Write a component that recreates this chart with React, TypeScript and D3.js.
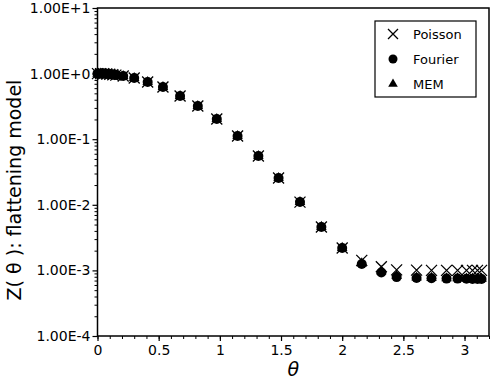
import React, { useEffect, useRef } from "react";
import * as d3 from "d3";

// theta values (radians)
const theta = [
  0, 0.025, 0.05, 0.075, 0.1, 0.125, 0.15, 0.21, 0.3, 0.41, 0.535, 0.675, 0.82,
  0.975, 1.145, 1.315, 1.48, 1.655, 1.83, 2.0, 2.16, 2.32, 2.445, 2.608, 2.73,
  2.853, 2.943, 3.016, 3.065, 3.106, 3.139,
];

const poisson = [
  1.0, 0.998, 0.992, 0.984, 0.975, 0.962, 0.948, 0.92, 0.857, 0.745, 0.625,
  0.456, 0.321, 0.203, 0.112, 0.0555, 0.0256, 0.011, 0.0046, 0.0022, 0.00142,
  0.00114, 0.00102, 0.00101, 0.001, 0.001, 0.001, 0.001, 0.001, 0.001, 0.001,
];

const fourier = [
  1.0, 0.998, 0.992, 0.984, 0.975, 0.962, 0.948, 0.92, 0.857, 0.745, 0.625,
  0.456, 0.321, 0.203, 0.112, 0.0555, 0.0256, 0.011, 0.0046, 0.0022, 0.00125,
  0.00093, 0.00079, 0.000765, 0.00076, 0.00075, 0.00075, 0.000745, 0.00074,
  0.00074, 0.00074,
];

const mem = [
  1.0, 0.998, 0.992, 0.984, 0.975, 0.962, 0.948, 0.92, 0.857, 0.745, 0.625,
  0.456, 0.321, 0.203, 0.112, 0.0555, 0.0256, 0.011, 0.0046, 0.0022, 0.00128,
  0.00097, 0.00082, 0.00078, 0.00077, 0.00076, 0.00076, 0.00075, 0.00075,
  0.00075, 0.00075,
];

const xTicks = [0, 0.5, 1, 1.5, 2, 2.5, 3];
const yTicks = [1e-4, 1e-3, 1e-2, 1e-1, 1, 10];
const legendNames = ["Poisson", "Fourier", "MEM"];

const W = 491;
const H = 382;
const margin = { top: 8, right: 2, bottom: 46, left: 97.5 };
const FONT = "'DejaVu Sans', Verdana, sans-serif";

const fmtE = (v: number) => {
  const e = Math.round(Math.log10(v));
  return `1.00E${e >= 0 ? "+" : "-"}${Math.abs(e)}`;
};

const App = () => {
  const svgRef = useRef<SVGSVGElement | null>(null);

  useEffect(() => {
    const svg = d3.select(svgRef.current);
    svg.selectAll("*").remove();

    const x = d3
      .scaleLinear()
      .domain([0, 3.2])
      .range([margin.left, W - margin.right]);
    const y = d3
      .scaleLog()
      .domain([1e-4, 10])
      .range([H - margin.bottom, margin.top]);

    const minorX = d3.range(0, 3.2001, 0.1);
    const minorY: number[] = [];
    for (let e = -4; e < 1; e++) {
      for (let m = 2; m <= 9; m++) minorY.push(m * Math.pow(10, e));
    }

    // minor ticks
    svg
      .append("g")
      .attr("transform", `translate(0,${H - margin.bottom})`)
      .call(d3.axisBottom(x).tickValues(minorX).tickSize(3).tickFormat(() => ""))
      .call((g) => g.select(".domain").remove())
      .selectAll("line")
      .attr("stroke", "#000");
    svg
      .append("g")
      .attr("transform", `translate(${margin.left},0)`)
      .call(d3.axisLeft(y).tickValues(minorY).tickSize(3).tickFormat(() => ""))
      .call((g) => g.select(".domain").remove())
      .selectAll("line")
      .attr("stroke", "#000");

    // x-axis
    const gx = svg
      .append("g")
      .attr("transform", `translate(0,${H - margin.bottom})`)
      .call(d3.axisBottom(x).tickValues(xTicks).tickSize(5).tickPadding(4).tickFormat(d3.format("")));
    gx.select(".domain").remove();
    gx.selectAll("line").attr("stroke", "#000").attr("stroke-width", 1.2);
    gx.selectAll("text")
      .style("font-family", FONT)
      .style("font-size", "14px")
      .attr("fill", "#000");

    // y-axis
    const gy = svg
      .append("g")
      .attr("transform", `translate(${margin.left},0)`)
      .call(d3.axisLeft(y).tickValues(yTicks).tickSize(5).tickPadding(2).tickFormat((d) => fmtE(+d)));
    gy.select(".domain").remove();
    gy.selectAll("line").attr("stroke", "#000").attr("stroke-width", 1.2);
    gy.selectAll("text")
      .style("font-family", FONT)
      .style("font-size", "14px")
      .attr("fill", "#000");

    // frame
    svg
      .append("rect")
      .attr("x", margin.left)
      .attr("y", margin.top)
      .attr("width", W - margin.right - margin.left)
      .attr("height", H - margin.bottom - margin.top)
      .attr("fill", "none")
      .attr("stroke", "#000")
      .attr("stroke-width", 1.5);

    // axis titles
    svg
      .append("text")
      .attr("x", (x(0) + x(3.2)) / 2)
      .attr("y", 376)
      .attr("text-anchor", "middle")
      .style("font-family", FONT)
      .style("font-size", "19px")
      .style("font-style", "italic")
      .text("θ");
    svg
      .append("text")
      .attr("transform", `translate(21,190) rotate(-90)`)
      .attr("text-anchor", "middle")
      .style("font-family", FONT)
      .style("font-size", "19px")
      .text("Z( θ ): flattening model");

    const cross = (g: any, cx: number, cy: number, s: number) => {
      g.append("path")
        .attr("d", `M${cx - s},${cy - s}L${cx + s},${cy + s}M${cx - s},${cy + s}L${cx + s},${cy - s}`)
        .attr("stroke", "#000")
        .attr("stroke-width", 1.3)
        .attr("fill", "none");
    };
    const tri = d3.symbol().type(d3.symbolTriangle).size(48);

    // series
    const pts = svg.append("g");
    theta.forEach((t, i) => cross(pts, x(t), y(poisson[i]), 5.5));
    pts
      .selectAll("circle")
      .data(theta)
      .enter()
      .append("circle")
      .attr("cx", (d) => x(d))
      .attr("cy", (_, i) => y(fourier[i]))
      .attr("r", 5)
      .attr("fill", "#000");
    pts
      .selectAll("path.mem")
      .data(theta)
      .enter()
      .append("path")
      .attr("class", "mem")
      .attr("transform", (d, i) => `translate(${x(d)},${y(mem[i])})`)
      .attr("d", tri)
      .attr("fill", "#000");

    // legend
    const lg = svg.append("g");
    lg.append("rect")
      .attr("x", 375)
      .attr("y", 21)
      .attr("width", 101)
      .attr("height", 76)
      .attr("fill", "#fff")
      .attr("stroke", "#000")
      .attr("stroke-width", 1.2);
    legendNames.forEach((name, i) => {
      const cy = 34 + i * 25;
      if (i === 0) cross(lg, 393, cy, 5);
      if (i === 1) lg.append("circle").attr("cx", 393).attr("cy", cy).attr("r", 4.5).attr("fill", "#000");
      if (i === 2)
        lg.append("path")
          .attr("transform", `translate(393,${cy})`)
          .attr("d", d3.symbol().type(d3.symbolTriangle).size(40))
          .attr("fill", "#000");
      lg.append("text")
        .attr("x", 413)
        .attr("y", cy)
        .attr("dy", "0.35em")
        .style("font-family", FONT)
        .style("font-size", "13px")
        .text(name);
    });
  }, []);

  return (
    <svg
      ref={svgRef}
      width={W}
      height={H}
      style={{ position: "absolute", left: 0, top: 0, background: "#fff" }}
    ></svg>
  );
};

export default App;
